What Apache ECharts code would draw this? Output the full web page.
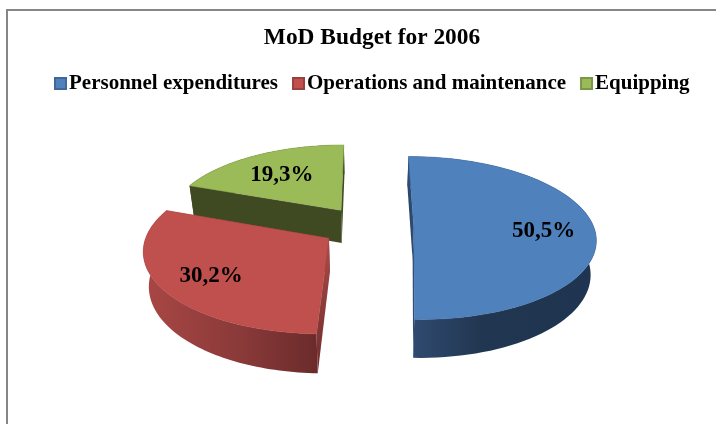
<!DOCTYPE html>
<html>
<head>
<meta charset="utf-8">
<style>html,body{margin:0;padding:0;background:#fff}#chart{width:716px;height:424px}</style>
<script src="https://cdn.jsdelivr.net/npm/echarts@6/dist/echarts.min.js"></script>
</head>
<body>
<div id="chart"></div>
<script>
// MoD budget shares for 2006
const chartTitle = 'MoD Budget for 2006';
const categories = ['Personnel expenditures', 'Operations and maintenance', 'Equipping'];
const shares = [50.5, 30.2, 19.3];

// Slice colours
const topColors = ['#4f81bd', '#c0504d', '#9bbb59'];
const edgeColors = ['#4674ab', '#ad4846', '#8ba950'];
const legendEdges = ['#3f6797', '#9a403e', '#7c9647'];
const cutColors = [
  ['#2a4468', '#2f4c72'],
  ['#ab4a48', '#6e2d2c'],
  ['#3f4a23', '#3f4a23']
];
const wallStops = [
  [[0, '#304c72'], [0.4, '#213650'], [1, '#1f3450']],
  [[0, '#a94745'], [0.55, '#8a3a39'], [1, '#6b2b2b']],
  [[0, '#3f4a23'], [1, '#3f4a23']]
];
const labelRadius = [0.72, 0.72, 0.65];
const explodeBy = [0.26, 0.25, 0.26];
const rimRadius = [1, 1, 0.97];

// Tilted-disc projection: world units are pie radii, +y comes toward the viewer
const VIEW = { vx: 367, y0: 227, ax: 180, ay: 80, persp: 0.13, depth: 33.5, shrink: 0.975 };
const TAU = Math.PI * 2;
const total = shares.reduce((a, b) => a + b, 0);

function project(wx, wy) {
  const w = 1 - VIEW.persp * wy;
  return { x: VIEW.vx + VIEW.ax * wx / w, y: VIEW.y0 + VIEW.ay * wy / w, w };
}
function lower(p) {
  return [VIEW.vx + VIEW.shrink * (p.x - VIEW.vx), p.y + VIEW.depth / p.w];
}
function upper(p) { return [p.x, p.y]; }

function sliceRange(index) {
  const before = shares.slice(0, index).reduce((a, b) => a + b, 0);
  return [before / total * TAU, (before + shares[index]) / total * TAU];
}

function renderSlice(index, api) {
  const value = api.value(0);
  const [t0, t1] = sliceRange(index);
  const mid = (t0 + t1) / 2;
  const ox = explodeBy[index] * Math.sin(mid);
  const oy = -explodeBy[index] * Math.cos(mid);
  const apex = project(ox, oy);
  const at = (t, r) => project(ox + r * Math.sin(t), oy - r * Math.cos(t));

  const rim = [];
  const steps = 80;
  for (let i = 0; i <= steps; i++) rim.push(at(t0 + (t1 - t0) * i / steps, rimRadius[index]));

  const wallPts = rim.map(upper).concat(rim.slice().reverse().map(lower));
  const topPts = [upper(apex)].concat(rim.map(upper));
  const cutWall = (p) => [upper(apex), upper(p), lower(p), lower(apex)];
  const vertical = (stops) => ({
    type: 'linear', x: 0, y: 0, x2: 0, y2: 1,
    colorStops: [{ offset: 0, color: stops[0] }, { offset: 1, color: stops[1] }]
  });
  const labelPoint = at(mid, labelRadius[index]);

  return {
    type: 'group',
    children: [
      { type: 'polygon', shape: { points: cutWall(rim[steps]) }, style: { fill: vertical(cutColors[index]) } },
      { type: 'polygon', shape: { points: cutWall(rim[0]) }, style: { fill: vertical(cutColors[index]) } },
      {
        type: 'polygon',
        shape: { points: wallPts },
        style: {
          fill: {
            type: 'linear', x: 0, y: 0, x2: 1, y2: 0,
            colorStops: wallStops[index].map(s => ({ offset: s[0], color: s[1] }))
          }
        }
      },
      {
        type: 'polygon',
        shape: { points: topPts },
        style: { fill: topColors[index], stroke: edgeColors[index], lineWidth: 0.5 }
      },
      {
        type: 'text',
        x: labelPoint.x, y: labelPoint.y + 3,
        style: {
          text: value.toFixed(1).replace('.', ',') + '%',
          fill: '#000',
          font: 'bold 23px "Liberation Serif"',
          align: 'center', verticalAlign: 'middle'
        }
      }
    ]
  };
}

const chart = echarts.init(document.getElementById('chart'), null, { renderer: 'canvas' });
chart.setOption({
  animation: false,
  backgroundColor: '#fff',
  title: {
    text: chartTitle,
    left: 367, top: 21, textAlign: 'center',
    textStyle: { fontFamily: 'Liberation Serif', fontWeight: 'bold', fontSize: 23.4, color: '#000' }
  },
  legend: {
    data: categories,
    left: 49, top: 68,
    icon: 'rect',
    itemWidth: 11, itemHeight: 11, itemGap: 14,
    selectedMode: false,
    textStyle: { fontFamily: 'Liberation Serif', fontWeight: 'bold', fontSize: 21, color: '#000', padding: [0, 0, 0, -2] }
  },
  graphic: [{
    type: 'rect', silent: true, z: -1,
    shape: { x: 7, y: 10, width: 760, height: 460 },
    style: { fill: 'none', stroke: '#868686', lineWidth: 2 }
  }],
  series: categories.map((name, i) => ({
    type: 'custom',
    name,
    coordinateSystem: 'none',
    z: [3, 2, 1][i],
    itemStyle: { color: topColors[i], borderColor: legendEdges[i], borderWidth: 1 },
    data: [[shares[i]]],
    renderItem: (params, api) => renderSlice(i, api)
  }))
});
</script>
</body>
</html>
